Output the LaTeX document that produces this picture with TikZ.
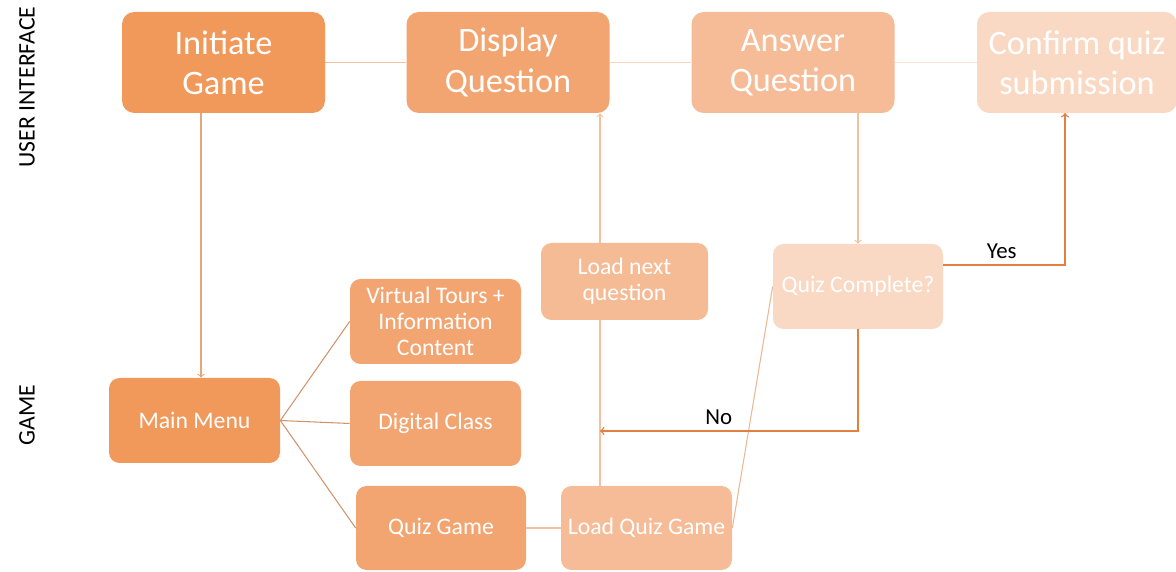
\documentclass[tikz,border=0pt]{standalone}
\usepackage{fontspec}
\setmainfont{Carlito}
\usetikzlibrary{shapes,arrows,positioning,calc,backgrounds}
\definecolor{boxdark}{RGB}{240,153,91}
\definecolor{boxmid}{RGB}{242,165,113}
\definecolor{boxlight}{RGB}{245,188,151}
\definecolor{boxpale}{RGB}{250,217,196}
\definecolor{linkA}{RGB}{244,192,158}
\definecolor{linkB}{RGB}{247,212,190}
\definecolor{linkC}{RGB}{250,228,214}
\definecolor{arrowcolor}{RGB}{230,165,122}
\definecolor{decisioncolor}{RGB}{226,128,66}

\tikzset{
  bigbox/.style={rounded corners=7pt, text=white, align=center,
    minimum width=4.06cm, minimum height=2.02cm, inner sep=2pt,
    font=\fontsize{19.5}{23}\selectfont},
  smallbox/.style={rounded corners=6pt, text=white, align=center,
    minimum width=3.42cm, minimum height=1.70cm, inner sep=2pt,
    font=\fontsize{13.5}{14.8}\selectfont},
  link/.style={line width=0.6pt},
  lanelabel/.style={rotate=90, font=\fontsize{13.5}{15}\selectfont}
}

\begin{document}
\begin{tikzpicture}

\useasboundingbox (0,0) rectangle (23.52,-11.44);

% ================= TOP: USER INTERFACE =================
\node[lanelabel] (uilabel) at (0.54,-1.74) {USER INTERFACE};

\node[bigbox, fill=boxdark]  (init) at (4.47,-1.25)  {Initiate\\Game};
\node[bigbox, fill=boxmid]   (disp) at (10.16,-1.25) {Display\\Question};
\node[bigbox, fill=boxlight] (answ) at (15.86,-1.25) {Answer\\Question};
\node[bigbox, fill=boxpale, minimum width=4.0cm] (conf) at (21.54,-1.25) {Confirm quiz\\submission};

% ================= BOTTOM: GAME =================
\node[lanelabel] (gamelabel) at (0.54,-8.3) {GAME};

\node[smallbox, fill=boxdark] (menu) at (3.89,-8.41) {Main Menu};
\node[smallbox, fill=boxmid]  (tours) at (8.71,-6.43) {Virtual Tours +\\Information\\Content};
\node[smallbox, fill=boxmid]  (digital) at (8.71,-8.47) {Digital Class};
\node[smallbox, fill=boxmid, minimum width=3.40cm, minimum height=1.68cm] (quizgame) at (8.82,-10.56) {Quiz Game};
\node[smallbox, fill=boxlight, minimum height=1.68cm] (loadquiz) at (12.93,-10.56) {Load Quiz Game};
\node[smallbox, fill=boxlight!95!boxmid, minimum width=3.34cm, minimum height=1.54cm] (loadnext) at (12.49,-5.63) {Load next\\question};
\node[smallbox, fill=boxpale, minimum width=3.40cm] (complete) at (17.16,-5.73) {Quiz Complete?};

% Helper points
\coordinate (startx) at (4.02,-8.41);
\coordinate (loopx) at (12.0,-8.62);
\coordinate (yesend) at (21.3,-2.26);

% ================= CONNECTORS =================
\begin{scope}[on background layer]
% top row
\draw[link, linkA] (init) -- (disp);
\draw[link, linkB] (disp) -- (answ);
\draw[link, linkC] (answ) -- (conf);

% start the game
\draw[->, link, arrowcolor] (init.south -| startx) -- (menu.north -| startx);

% menu choices
\draw[link, arrowcolor!90!black] (menu.east) -- (tours.west);
\draw[link, arrowcolor!90!black] (menu.east) -- (digital.west);
\draw[link, arrowcolor!90!black] (menu.east) -- (quizgame.west);

% quiz flow
\draw[link, linkA] (quizgame) -- (loadquiz);
\draw[->, link, linkA] (loadquiz.north -| loopx) -- (disp.south -| loopx);
\draw[link, arrowcolor!80] (loadquiz.east) -- (complete.west);
\draw[->, link, linkA] (answ.south -| complete.north) -- (complete.north);
\end{scope}

% decision
\draw[->, line width=0.8pt, decisioncolor] (complete.south) |- (loopx)
  node[pos=0.77, above, black, font=\fontsize{13}{15}\selectfont] {No};
\draw[->, line width=0.8pt, decisioncolor] ($(complete.east)+(0,0.43)$) -| (yesend)
  node[pos=0.24, above, black, font=\fontsize{13}{15}\selectfont] {Yes};

\end{tikzpicture}
\end{document}
